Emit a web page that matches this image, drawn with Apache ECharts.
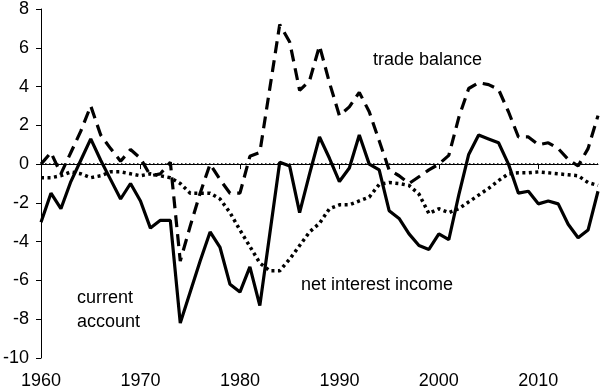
<!DOCTYPE html>
<html><head><meta charset="utf-8">
<script src="https://cdn.jsdelivr.net/npm/echarts@6/dist/echarts.min.js"></script>
<style>html,body{margin:0;padding:0;background:#fff}#c{width:600px;height:390px}</style>
</head><body><div id="c"></div>
<script>
const years = [];
for (let y = 1960; y <= 2016; y++) years.push(y);

const currentAccount = [-3.0,-1.5,-2.3,-0.9,0.2,1.3,0.2,-0.8,-1.8,-1.0,-1.9,-3.3,-2.9,-2.9,
  -8.2,-6.6,-5.0,-3.5,-4.3,-6.2,-6.6,-5.3,-7.3,-3.6,0.1,-0.1,-2.5,-0.5,1.4,0.3,
  -0.9,-0.2,1.5,0.0,-0.3,-2.4,-2.8,-3.6,-4.2,-4.4,-3.6,-3.9,-1.6,0.5,1.5,1.3,1.1,
  0.0,-1.5,-1.4,-2.05,-1.9,-2.05,-3.1,-3.8,-3.4,-1.4];
const tradeBalance = [0.0,0.6,-0.5,0.6,1.7,3.0,1.5,0.8,0.15,0.75,0.3,-0.6,-0.5,0.1,
  -5.0,-3.2,-1.5,0.0,-0.8,-1.5,-1.5,0.4,0.6,3.9,7.2,6.3,3.8,4.3,6.1,4.2,
  2.5,2.95,3.7,2.7,1.2,-0.3,-0.6,-1.0,-0.65,-0.3,0.0,0.45,2.4,3.9,4.2,4.1,3.85,
  2.7,1.4,1.4,1.0,1.1,0.8,0.25,-0.1,0.8,2.5];
const netInterest = [-0.7,-0.7,-0.6,-0.4,-0.5,-0.7,-0.6,-0.4,-0.4,-0.5,-0.6,-0.5,-0.6,-0.7,
  -1.0,-1.5,-1.5,-1.5,-1.8,-2.5,-3.4,-4.25,-5.1,-5.5,-5.5,-4.9,-4.2,-3.5,-3.05,-2.3,
  -2.1,-2.1,-1.9,-1.7,-1.05,-0.95,-1.0,-1.1,-1.55,-2.55,-2.3,-2.5,-2.3,-1.95,-1.6,-1.25,-0.85,
  -0.5,-0.45,-0.45,-0.4,-0.45,-0.5,-0.55,-0.6,-0.95,-1.1];
const xTicks = [1960,1970,1980,1990,2000,2010];
const yTicks = [-10,-8,-6,-4,-2,0,2,4,6,8];
const labels = {trade: 'trade balance', interest: 'net interest income', current1: 'current', current2: 'account'};

const pair = arr => years.map((y,i) => [y, arr[i]]);
const FONT = 'Liberation Sans';
const FS = 18;
const chart = echarts.init(document.getElementById('c'));
chart.setOption({
  animation: false,
  grid: {left: 37, right: 2, top: 6, bottom: 30.5, containLabel: false},
  xAxis: {
    type: 'value', min: 1960, max: 2016, interval: 10,
    axisLine: {lineStyle: {color: '#000', width: 1}},
    axisTick: {length: 5, lineStyle: {color: '#000'}, customValues: xTicks},
    axisLabel: {color: '#000', fontFamily: FONT, fontSize: FS, margin: 14, customValues: xTicks,
      formatter: v => String(v)},
    splitLine: {show: false}
  },
  yAxis: {
    type: 'value', min: -10, max: 8, interval: 2,
    axisLine: {show: true, lineStyle: {color: '#000', width: 1}},
    axisTick: {show: true, length: 5, lineStyle: {color: '#000'}, customValues: yTicks},
    axisLabel: {color: '#000', fontFamily: FONT, fontSize: FS, margin: 12, customValues: yTicks,
      formatter: v => String(v)},
    splitLine: {show: false}
  },
  series: [
    {type: 'line', data: pair(netInterest), symbol: 'none',
     lineStyle: {color: '#000', width: 3.5, type: [3, 3.5]},
     markLine: {silent: true, symbol: 'none', label: {show: false},
       lineStyle: {color: '#000', width: 1.5, type: [1.5, 2.5]}, data: [{yAxis: 0}]}},
    {type: 'line', data: pair(tradeBalance), symbol: 'none',
     lineStyle: {color: '#000', width: 3.2, type: [12, 7]}},
    {type: 'line', data: pair(currentAccount), symbol: 'none',
     lineStyle: {color: '#000', width: 3.2}}
  ],
  graphic: [
    {type: 'text', left: 373, top: 51, style: {text: labels.trade, fontFamily: FONT, fontSize: FS, fill: '#000'}},
    {type: 'text', left: 301, top: 276, style: {text: labels.interest, fontFamily: FONT, fontSize: FS, fill: '#000'}},
    {type: 'text', left: 77, top: 289, style: {text: labels.current1, fontFamily: FONT, fontSize: FS, fill: '#000'}},
    {type: 'text', left: 77, top: 313, style: {text: labels.current2, fontFamily: FONT, fontSize: FS, fill: '#000'}}
  ]
});
</script></body></html>
